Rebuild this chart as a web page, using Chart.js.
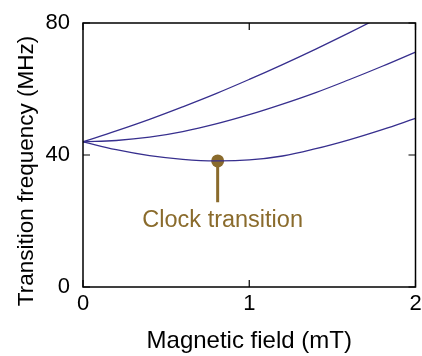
<!DOCTYPE html>
<html>
<head>
<meta charset="utf-8">
<script src="https://cdn.jsdelivr.net/npm/chart.js@4"></script>
<style>
  html, body { margin: 0; padding: 0; background: #fff; }
  #wrap { width: 422px; height: 356px; }
</style>
</head>
<body>
<div id="wrap"><canvas id="myChart"></canvas></div>
<script>
// field values (mT)
var field = [0, 0.2, 0.4, 0.6, 0.8, 1.0, 1.2, 1.4, 1.6, 1.8, 2.0];
// transition frequencies (MHz)
var upper  = [44, 47.3, 50.8, 54.6, 58.6, 62.9, 67.4, 72.1, 77.0, 82.1, 87.3];
var middle = [44, 44.4, 45.4, 47.1, 49.4, 52.2, 55.4, 58.9, 62.8, 66.9, 71.2];
var lower  = [44, 41.6, 39.8, 38.7, 38.2, 38.5, 39.7, 41.9, 44.6, 47.7, 51.1];

// clock transition marker
var clockField = 0.81;
var clockFreq = 38.2;
var clockStickEnd = 25.7;
var clockLabel = 'Clock transition';

var xTicks = [0, 1, 2];
var yTicks = [0, 40, 80];
var yTitle = 'Transition frequency (MHz)';

var lineColor = '#372f8e';
var clockColor = '#8a6b2c';
var font = "'Liberation Sans', Arial, Helvetica, sans-serif";

function pts(ys) {
  return field.map(function (x, i) { return { x: x, y: ys[i] }; });
}

var frame = {
  id: 'frame',
  afterDatasetsDraw: function (chart) {
    var c = chart.ctx, a = chart.chartArea;
    var xs = chart.scales.x, ys = chart.scales.y;
    c.save();
    c.strokeStyle = '#000';
    c.lineWidth = 1.5;
    c.strokeRect(a.left, a.top, a.right - a.left, a.bottom - a.top);
    c.lineWidth = 1.2;
    c.beginPath();
    xTicks.forEach(function (v) {
      var px = xs.getPixelForValue(v);
      c.moveTo(px, a.bottom); c.lineTo(px, a.bottom - 7);
      c.moveTo(px, a.top); c.lineTo(px, a.top + 7);
    });
    yTicks.forEach(function (v) {
      var py = ys.getPixelForValue(v);
      c.moveTo(a.left, py); c.lineTo(a.left + 7, py);
      c.moveTo(a.right, py); c.lineTo(a.right - 7, py);
    });
    c.stroke();
    // label under the clock marker
    c.fillStyle = clockColor;
    c.font = '23.5px ' + font;
    c.textAlign = 'center';
    c.textBaseline = 'middle';
    c.fillText(clockLabel, xs.getPixelForValue(clockField) + 5, ys.getPixelForValue(clockStickEnd) + 18);
    // y axis title
    c.fillStyle = '#000';
    c.font = '22.5px ' + font;
    c.translate(27, (a.top + a.bottom) / 2 + 16);
    c.rotate(-Math.PI / 2);
    c.fillText(yTitle, 0, 0);
    c.restore();
  }
};

var ctx = document.getElementById('myChart');

var myChart = new Chart(ctx, {
  type: 'scatter',
  data: {
    datasets: [
      { data: pts(upper), showLine: true, borderColor: lineColor, borderWidth: 1.3, pointRadius: 0, tension: 0.4 },
      { data: pts(middle), showLine: true, borderColor: lineColor, borderWidth: 1.3, pointRadius: 0, tension: 0.4 },
      { data: pts(lower), showLine: true, borderColor: lineColor, borderWidth: 1.3, pointRadius: 0, tension: 0.4 },
      { data: [{ x: clockField, y: clockFreq }, { x: clockField, y: clockStickEnd }], showLine: true,
        borderColor: clockColor, borderWidth: 3, pointRadius: [6.5, 0], pointBackgroundColor: clockColor,
        pointBorderWidth: 0 }
    ]
  },
  options: {
    responsive: true,
    maintainAspectRatio: false,
    animation: false,
    layout: { padding: { top: 23, right: 6 } },
    plugins: { legend: { display: false }, tooltip: { enabled: false } },
    scales: {
      x: {
        min: 0, max: 2,
        grid: { display: false },
        border: { display: false },
        ticks: { stepSize: 1, color: '#000', padding: -4, font: { family: font, size: 22 } },
        title: { display: true, text: 'Magnetic field (mT)', color: '#000', padding: { top: 0, bottom: 0 },
                 font: { family: font, size: 24 } },
        afterFit: function (s) { s.height = 69; }
      },
      y: {
        min: 0, max: 80,
        grid: { display: false },
        border: { display: false },
        ticks: { stepSize: 40, color: '#000', padding: 5, font: { family: font, size: 22 } },
        afterFit: function (s) { s.width = 83; }
      }
    }
  },
  plugins: [frame]
});
</script>
</body>
</html>
